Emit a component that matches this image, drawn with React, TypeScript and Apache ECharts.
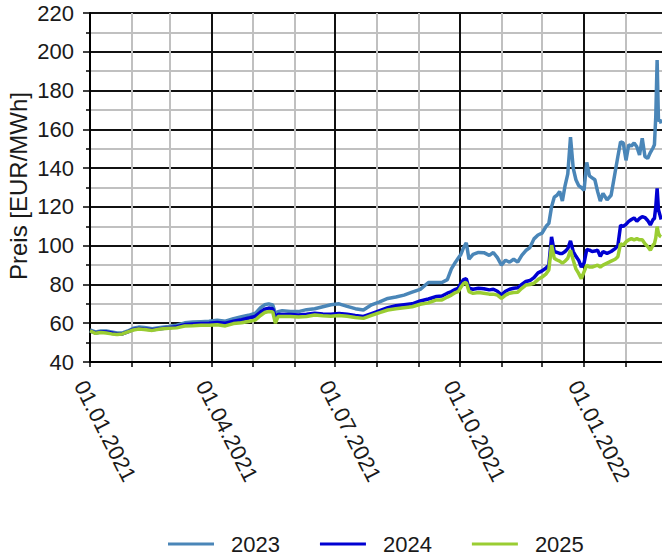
import React, { useEffect, useRef } from "react";
import * as echarts from "echarts";

const dates: string[] = [
  "2021-01-01","2021-01-05","2021-01-09","2021-01-13","2021-01-17","2021-01-21","2021-01-25","2021-01-29",
  "2021-02-02","2021-02-06","2021-02-10","2021-02-16","2021-02-22","2021-02-28",
  "2021-03-06","2021-03-12","2021-03-18","2021-03-24","2021-03-30",
  "2021-04-05","2021-04-11","2021-04-17","2021-04-23","2021-04-29",
  "2021-05-03","2021-05-07","2021-05-10","2021-05-13","2021-05-16","2021-05-18","2021-05-20","2021-05-23","2021-05-29",
  "2021-06-04","2021-06-10","2021-06-16","2021-06-22","2021-06-28",
  "2021-07-04","2021-07-10","2021-07-16","2021-07-22","2021-07-28",
  "2021-08-03","2021-08-09","2021-08-15","2021-08-21","2021-08-27",
  "2021-09-02","2021-09-08","2021-09-14","2021-09-18","2021-09-22","2021-09-25","2021-09-28","2021-09-30",
  "2021-10-02","2021-10-04","2021-10-06","2021-10-08","2021-10-11","2021-10-15","2021-10-19","2021-10-23","2021-10-26","2021-10-29",
  "2021-11-01","2021-11-04","2021-11-07","2021-11-10","2021-11-13","2021-11-16","2021-11-19","2021-11-22","2021-11-25","2021-11-28",
  "2021-12-01","2021-12-04","2021-12-06","2021-12-08","2021-12-10","2021-12-12","2021-12-14","2021-12-16","2021-12-18","2021-12-20",
  "2021-12-22","2021-12-24","2021-12-26","2021-12-28","2021-12-30",
  "2022-01-01","2022-01-03","2022-01-05","2022-01-07","2022-01-09","2022-01-11","2022-01-13","2022-01-15","2022-01-18","2022-01-21",
  "2022-01-24","2022-01-26","2022-01-28","2022-01-30",
  "2022-02-01","2022-02-03","2022-02-05","2022-02-07","2022-02-09","2022-02-11","2022-02-13","2022-02-15","2022-02-17","2022-02-19",
  "2022-02-21","2022-02-22","2022-02-23","2022-02-24","2022-02-25","2022-02-26","2022-02-27",
];

const values2023: number[] = [
  56.5,55.5,56,56,55.5,55,55,56,
  57.4,58,57.8,57.2,57.8,58.3,
  59,60.2,60.6,60.8,61,
  61.6,61,62.3,63.3,64.3,
  65,68,69.5,70,69.4,65,66,66.5,66,
  66,67,67.5,68.5,69.5,
  70,68.7,67.5,66.8,69.5,
  71,72.8,73.5,74.5,76,
  77.5,81,81,81,82.5,88,91.5,93.5,
  95.5,99,101.5,93,95.5,96.5,96.4,95,96.5,93.8,
  90,92.5,91.5,93,91.5,95,97.5,99,103.5,105.5,
  106.5,110,111.5,120,125,126,128,123,131,137,
  156,140,134,131,130,
  128.5,143,136,135,134,128,123,127,123.6,126,
  138,146,153.6,153,
  144,152,151.4,153,151,146.8,155.4,146,145,148,
  150.5,152,166.6,195.8,164,165,163,
];

const values2024: number[] = [
  56,55,55.5,55.5,55,54.5,54.5,55.5,
  56.8,57.3,57,56.6,57.2,57.7,
  58.2,59.3,59.6,59.8,60,
  60.4,60,61,61.8,62.8,
  63.5,65.8,67.2,67.8,67.5,63,64.5,64.5,64.5,
  64.3,64.6,65.2,64.8,64.6,
  65,64.6,64,63.5,65,
  66.5,68,69,69.5,70,
  71.5,72.5,73.8,74,75.5,76.3,77.5,78,
  80.5,82.5,83,78,77.5,78,77.8,77.2,77.5,76.5,
  74.5,76.5,77.5,78,78.3,80,81.5,82,83.5,86,
  87,88.5,90,104.5,97,96.5,96,96,97,98.5,
  102.5,97,94.5,92.5,89,
  91,98,97.7,97,97.2,97.7,94.5,97,96,97,
  98.5,100,110.5,110,
  111,112.5,113.5,114.3,112.6,114,115,114.5,113,110.7,
  113.5,114,120,129.6,118.5,116,113.5,
];

const values2025: number[] = [
  56,54.8,55.2,55,54.5,54.2,54.5,55.5,
  56.5,57,56.8,56.3,57,57.4,
  57.6,58.6,58.7,58.9,59,
  59.2,58.6,59.8,60.2,61,
  61.6,64,65.5,66,65.8,60,63.5,63.5,63.5,
  63.2,63.5,64.2,63.8,63.6,
  64,63.6,63,62.5,64,
  65.5,66.8,67.5,68,68.5,
  69.8,70.5,72,72,73.5,74.5,75.8,76.3,
  78.5,80.5,81,76.3,75.4,75.8,75.5,75,75,74.5,
  72.8,74.5,75.5,75.8,76,78,79.7,80,80.6,82.5,
  83.8,85.5,87.5,100.3,93.5,92.6,92,91,92,93.5,
  97.7,92.6,88,85.7,83,
  86.5,90,89,89,89.5,90,89,90,91,92,
  93,94.3,101,100.3,
  102,103,103.6,103,103.6,103,103,101,99.6,97.7,
  100.3,101,104,109.8,106.3,105,104.6,
];

const seriesNames: string[] = ["2023", "2024", "2025"];
const seriesColors: string[] = ["#4a86b8", "#0000d2", "#9acd32"];

const monthStarts: string[] = [
  "2021-01-01","2021-02-01","2021-03-01","2021-04-01","2021-05-01","2021-06-01","2021-07-01",
  "2021-08-01","2021-09-01","2021-10-01","2021-11-01","2021-12-01","2022-01-01","2022-02-01",
];
const quarterStarts: string[] = ["2021-01-01", "2021-04-01", "2021-07-01", "2021-10-01", "2022-01-01"];

const yTicks: number[] = [40, 220, 20];
const yAxisTitle = "Preis [EUR/MWh]";

const FONT = "'Liberation Sans', Arial, Helvetica, sans-serif";

function ts(s: string): number {
  const [y, m, d] = s.split("-").map(Number);
  return new Date(y, m - 1, d).getTime();
}
function pad(n: number): string {
  return n < 10 ? "0" + n : String(n);
}

export default function App() {
  const ref = useRef<HTMLDivElement>(null);
  useEffect(() => {
    if (!ref.current) return;
    const chart = echarts.init(ref.current, undefined, { renderer: "svg" });
    const xMin = ts("2021-01-01");
    const xMax = xMin + 422.6 * 86400000;
    const allValues = [values2023, values2024, values2025];
    chart.setOption({
      animation: false,
      backgroundColor: "#ffffff",
      grid: { left: 90, right: 0, top: 13, bottom: 197, containLabel: false },
      xAxis: {
        type: "value",
        min: xMin,
        max: xMax,
        scale: true,
        axisLine: { show: true, onZero: false, lineStyle: { color: "#000", width: 2 } },
        axisTick: {
          show: true,
          customValues: monthStarts.map(ts),
          length: 5,
          lineStyle: { color: "#000", width: 1.5 },
        },
        axisLabel: {
          show: true,
          customValues: quarterStarts.map(ts),
          rotate: -63,
          align: "left",
          verticalAlign: "top",
          margin: 15,
          fontSize: 22,
          fontFamily: FONT,
          color: "#1a1a1a",
          formatter: (v: number) => {
            const d = new Date(v);
            return pad(d.getDate()) + "." + pad(d.getMonth() + 1) + "." + d.getFullYear();
          },
        },
        splitLine: {
          show: true,
          lineStyle: { color: ["#111", "#c0c0c0", "#c0c0c0"], width: 2 },
        },
      },
      yAxis: {
        type: "value",
        min: yTicks[0],
        max: yTicks[1],
        interval: yTicks[2],
        axisLine: { show: true, lineStyle: { color: "#000", width: 2 } },
        axisTick: { show: true, length: 7, lineStyle: { color: "#000", width: 1.5 } },
        minorTick: { show: true, splitNumber: 2, length: 4, lineStyle: { color: "#000", width: 1.5 } },
        axisLabel: { margin: 16, fontSize: 22, fontFamily: FONT, color: "#1a1a1a" },
        splitLine: { show: true, lineStyle: { color: "#111", width: 2 } },
        minorSplitLine: { show: true, lineStyle: { color: "#c0c0c0", width: 2 } },
      },
      legend: {
        data: seriesNames,
        left: 163,
        top: 528,
        padding: 5,
        icon: "rect",
        itemWidth: 46,
        itemHeight: 3,
        itemGap: 40,
        textStyle: { fontSize: 22, fontFamily: FONT, color: "#1a1a1a", padding: [0, 0, 0, 12] },
      },
      graphic: [
        {
          type: "text",
          x: 18,
          y: 186,
          rotation: Math.PI / 2,
          style: {
            text: yAxisTitle,
            font: `24px ${FONT}`,
            fill: "#1a1a1a",
            align: "center",
            verticalAlign: "middle",
          },
        },
      ],
      series: seriesNames.map((name, i) => ({
        name,
        type: "line",
        showSymbol: false,
        symbol: "none",
        lineStyle: { color: seriesColors[i], width: 3.5 },
        itemStyle: { color: seriesColors[i] },
        data: dates.map((d, k) => [ts(d), allValues[i][k]]),
      })),
    });
    return () => chart.dispose();
  }, []);
  return (
    <div
      ref={ref}
      style={{ position: "fixed", left: 0, top: 0, width: 662, height: 559 }}
    />
  );
}
